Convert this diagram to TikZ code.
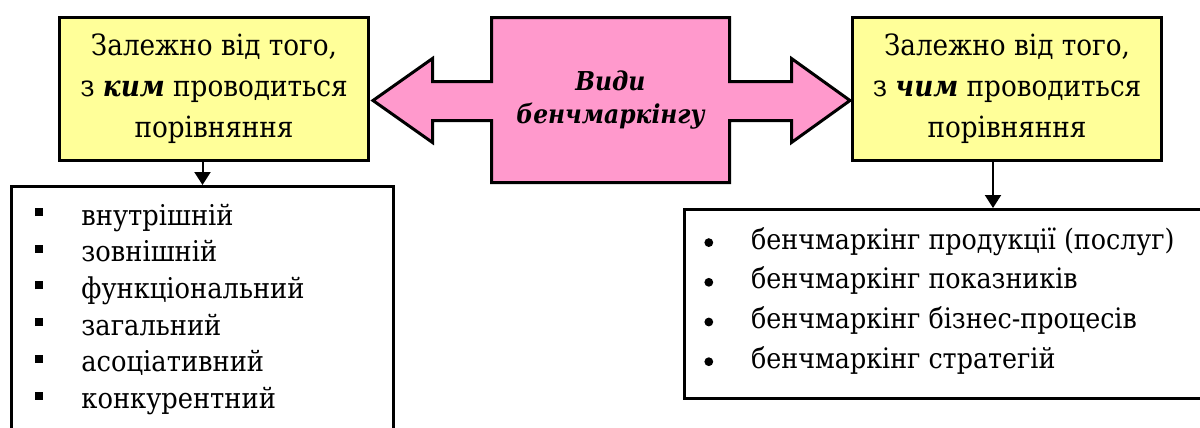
\documentclass[tikz,border=0pt]{standalone}
\usepackage{fontspec}
\setmainfont{DejaVu Serif Condensed}
\usetikzlibrary{arrows.meta}
\definecolor{crityellow}{HTML}{FFFF99}
\definecolor{kindpink}{HTML}{FF99CC}
\newcommand{\sqmark}{\rule[4.5pt]{4pt}{4pt}}
\newcommand{\dotmark}{\raisebox{1pt}{\tikz\fill (0,0) circle (2.2pt);}}

\begin{document}
\begin{tikzpicture}[x=0.5pt,y=-0.5pt,>={Triangle[length=6.5pt,width=8pt]},
    critbox/.style={draw=black,line width=1.5pt,fill=crityellow,minimum width=154.5pt,minimum height=71.5pt,inner sep=0pt,align=center,font=\fontsize{14.6}{20.5}\selectfont},
    listbox/.style={draw=black,line width=1.5pt,fill=white,inner sep=0pt},
    link/.style={->,line width=1pt}]
    \useasboundingbox (0,0) rectangle (1200,428);
    \clip (0,0) rectangle (1200,428);
    \filldraw[fill=kindpink,draw=black,line width=1.5pt,line join=miter]
      (491.5,17.5) -- (729.5,17.5) -- (729.5,81.5) -- (791.5,81.5) -- (791.5,58.5) -- (850,100.5)
      -- (791.5,142.5) -- (791.5,120.5) -- (729.5,120.5) -- (729.5,182.5) -- (491.5,182.5)
      -- (491.5,120.5) -- (432.5,120.5) -- (432.5,142.5) -- (373,100.5) -- (432.5,58.5)
      -- (432.5,81.5) -- (491.5,81.5) -- cycle;
    \node[font=\fontsize{13}{16.5}\selectfont\bfseries\itshape,align=center] (kinds) at (610.5,100) {Види\\бенчмаркінгу};
    \node[critbox] (whom) at (214,89) {Залежно від того,\\з \textbf{\textit{ким}} проводиться\\порівняння};
    \node[critbox] (what) at (1007,89) {Залежно від того,\\з \textbf{\textit{чим}} проводиться\\порівняння};
    \node[listbox,minimum width=191pt,minimum height=130pt] (whomList) at (202.5,316.5) {};
    \node[listbox,minimum width=308.5pt,minimum height=94.5pt] (whatList) at (993,304) {};
    \node[anchor=base west,inner sep=0pt,font=\fontsize{14.3}{18.35}\selectfont] (whomItems) at (35,225) {%
      \begin{tabular}[t]{@{}l@{\hspace{19pt}}l@{}}
        \sqmark & внутрішній\\
        \sqmark & зовнішній\\
        \sqmark & функціональний\\
        \sqmark & загальний\\
        \sqmark & асоціативний\\
        \sqmark & конкурентний
      \end{tabular}};
    \node[anchor=base west,inner sep=0pt,font=\fontsize{14.1}{19.85}\selectfont] (whatItems) at (704,249) {%
      \begin{tabular}[t]{@{}l@{\hspace{19pt}}l@{}}
        \dotmark & бенчмаркінг продукції (послуг)\\
        \dotmark & бенчмаркінг показників\\
        \dotmark & бенчмаркінг бізнес-процесів\\
        \dotmark & бенчмаркінг стратегій
      \end{tabular}};
    \draw[link] (whom.south -| whomList.north) -- (whomList.north);
    \draw[link] (what.south -| whatList.north) -- (whatList.north);
  \end{tikzpicture}
\end{document}
